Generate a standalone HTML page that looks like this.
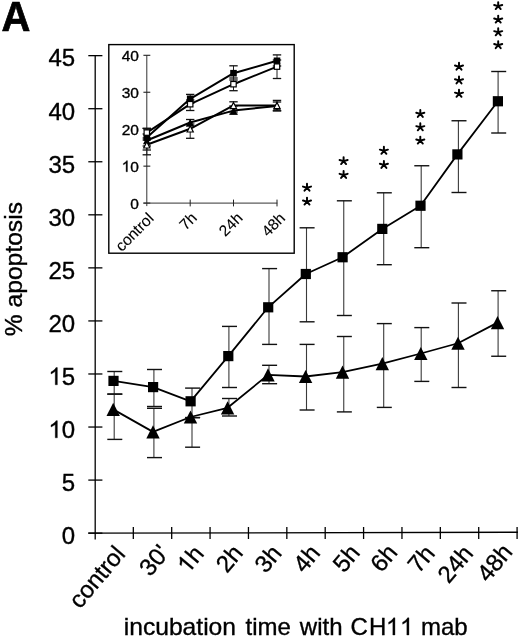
<!DOCTYPE html>
<html><head><meta charset="utf-8"><style>
html,body{margin:0;padding:0;background:#fff;width:520px;height:639px;overflow:hidden}
svg{display:block;font-family:"Liberation Sans", sans-serif;filter:blur(0.35px)}
text,.g1{stroke:#000;stroke-width:0.35px}
</style></head><body>
<svg width="520" height="639" viewBox="0 0 520 639">
<rect width="520" height="639" fill="#fff"/>
<line x1="95.2" y1="55.05499999999997" x2="95.2" y2="539.5" stroke="#000" stroke-width="1.3"/>
<line x1="88.3" y1="533.15" x2="102.4" y2="533.15" stroke="#000" stroke-width="1.3"/>
<g transform="translate(61.76 543.95)"><text x="0.00" y="0" font-size="24">0</text></g>
<line x1="88.3" y1="480.09" x2="102.4" y2="480.09" stroke="#000" stroke-width="1.3"/>
<g transform="translate(61.76 490.89)"><text x="0.00" y="0" font-size="24">5</text></g>
<line x1="88.3" y1="427.04" x2="102.4" y2="427.04" stroke="#000" stroke-width="1.3"/>
<g transform="translate(48.41 437.84)"><path class="g1" d="M0.373,0L0.285,0L0.285,-0.560Q0.253,-0.530,0.200,-0.499Q0.147,-0.468,0.109,-0.450L0.109,-0.535Q0.180,-0.568,0.245,-0.624Q0.298,-0.670,0.316,-0.716L0.373,-0.716Z" transform="translate(0.00 0) scale(24)" fill="#000" style="stroke-width:0.0146px"/><text x="13.34" y="0" font-size="24">0</text></g>
<line x1="88.3" y1="373.98" x2="102.4" y2="373.98" stroke="#000" stroke-width="1.3"/>
<g transform="translate(48.41 384.78)"><path class="g1" d="M0.373,0L0.285,0L0.285,-0.560Q0.253,-0.530,0.200,-0.499Q0.147,-0.468,0.109,-0.450L0.109,-0.535Q0.180,-0.568,0.245,-0.624Q0.298,-0.670,0.316,-0.716L0.373,-0.716Z" transform="translate(0.00 0) scale(24)" fill="#000" style="stroke-width:0.0146px"/><text x="13.34" y="0" font-size="24">5</text></g>
<line x1="88.3" y1="320.93" x2="102.4" y2="320.93" stroke="#000" stroke-width="1.3"/>
<g transform="translate(48.41 331.73)"><text x="0.00" y="0" font-size="24">20</text></g>
<line x1="88.3" y1="267.87" x2="102.4" y2="267.87" stroke="#000" stroke-width="1.3"/>
<g transform="translate(48.41 278.67)"><text x="0.00" y="0" font-size="24">25</text></g>
<line x1="88.3" y1="214.82" x2="102.4" y2="214.82" stroke="#000" stroke-width="1.3"/>
<g transform="translate(48.41 225.62)"><text x="0.00" y="0" font-size="24">30</text></g>
<line x1="88.3" y1="161.76" x2="102.4" y2="161.76" stroke="#000" stroke-width="1.3"/>
<g transform="translate(48.41 172.56)"><text x="0.00" y="0" font-size="24">35</text></g>
<line x1="88.3" y1="108.71" x2="102.4" y2="108.71" stroke="#000" stroke-width="1.3"/>
<g transform="translate(48.41 119.51)"><text x="0.00" y="0" font-size="24">40</text></g>
<line x1="88.3" y1="55.65" x2="102.4" y2="55.65" stroke="#000" stroke-width="1.3"/>
<g transform="translate(48.41 66.45)"><text x="0.00" y="0" font-size="24">45</text></g>
<line x1="88.3" y1="533.15" x2="517.9" y2="532.25" stroke="#000" stroke-width="1.3"/>
<line x1="133.32" y1="527" x2="133.32" y2="539" stroke="#000" stroke-width="1.3"/>
<line x1="171.69" y1="527" x2="171.69" y2="539" stroke="#000" stroke-width="1.3"/>
<line x1="210.07" y1="527" x2="210.07" y2="539" stroke="#000" stroke-width="1.3"/>
<line x1="248.45" y1="527" x2="248.45" y2="539" stroke="#000" stroke-width="1.3"/>
<line x1="286.83" y1="527" x2="286.83" y2="539" stroke="#000" stroke-width="1.3"/>
<line x1="325.20" y1="527" x2="325.20" y2="539" stroke="#000" stroke-width="1.3"/>
<line x1="363.58" y1="527" x2="363.58" y2="539" stroke="#000" stroke-width="1.3"/>
<line x1="401.96" y1="527" x2="401.96" y2="539" stroke="#000" stroke-width="1.3"/>
<line x1="440.33" y1="527" x2="440.33" y2="539" stroke="#000" stroke-width="1.3"/>
<line x1="478.71" y1="527" x2="478.71" y2="539" stroke="#000" stroke-width="1.3"/>
<line x1="517.09" y1="527" x2="517.09" y2="539" stroke="#000" stroke-width="1.3"/>
<text x="126.33" y="554.60" text-anchor="end" font-size="24" transform="rotate(-50 126.33 554.60)">control</text>
<text x="170.41" y="553.60" text-anchor="end" font-size="24" transform="rotate(-50 170.41 553.60)">30'</text>
<g transform="translate(205.08 554.20) rotate(-50) translate(-26.69 0.00)"><path class="g1" d="M0.373,0L0.285,0L0.285,-0.560Q0.253,-0.530,0.200,-0.499Q0.147,-0.468,0.109,-0.450L0.109,-0.535Q0.180,-0.568,0.245,-0.624Q0.298,-0.670,0.316,-0.716L0.373,-0.716Z" transform="translate(0.00 0) scale(24)" fill="#000" style="stroke-width:0.0146px"/><text x="13.34" y="0" font-size="24">h</text></g>
<text x="244.16" y="553.60" text-anchor="end" font-size="24" transform="rotate(-50 244.16 553.60)">2h</text>
<text x="282.94" y="553.80" text-anchor="end" font-size="24" transform="rotate(-50 282.94 553.80)">3h</text>
<text x="321.41" y="553.50" text-anchor="end" font-size="24" transform="rotate(-50 321.41 553.50)">4h</text>
<text x="361.19" y="553.30" text-anchor="end" font-size="24" transform="rotate(-50 361.19 553.30)">5h</text>
<text x="398.57" y="553.10" text-anchor="end" font-size="24" transform="rotate(-50 398.57 553.10)">6h</text>
<text x="436.04" y="553.90" text-anchor="end" font-size="24" transform="rotate(-50 436.04 553.90)">7h</text>
<text x="474.42" y="553.90" text-anchor="end" font-size="24" transform="rotate(-50 474.42 553.90)">24h</text>
<text x="513.70" y="552.60" text-anchor="end" font-size="24" transform="rotate(-50 513.70 552.60)">48h</text>
<text x="123.8" y="635" font-size="24" transform="translate(123.8 0) scale(1.026 1) translate(-123.8 0)">incubation</text>
<text x="245.6" y="635" font-size="24">time</text>
<text x="299.8" y="635" font-size="24">with</text>
<text x="350.4" y="635" font-size="24">C</text>
<text x="369.0" y="635" font-size="24">H</text>
<g transform="translate(386.00 635.00)"><path class="g1" d="M0.373,0L0.285,0L0.285,-0.560Q0.253,-0.530,0.200,-0.499Q0.147,-0.468,0.109,-0.450L0.109,-0.535Q0.180,-0.568,0.245,-0.624Q0.298,-0.670,0.316,-0.716L0.373,-0.716Z" transform="translate(0.00 0) scale(24)" fill="#000" style="stroke-width:0.0146px"/></g>
<g transform="translate(400.00 635.00)"><path class="g1" d="M0.373,0L0.285,0L0.285,-0.560Q0.253,-0.530,0.200,-0.499Q0.147,-0.468,0.109,-0.450L0.109,-0.535Q0.180,-0.568,0.245,-0.624Q0.298,-0.670,0.316,-0.716L0.373,-0.716Z" transform="translate(0.00 0) scale(24)" fill="#000" style="stroke-width:0.0146px"/></g>
<text x="421.0" y="635" font-size="24">mab</text>
<text x="0" y="0" text-anchor="middle" font-size="24" transform="translate(22.3 269.15) rotate(-90) scale(1.027 1)">% apoptosis</text>
<text x="1.6" y="31.3" font-size="41" font-weight="bold" style="stroke-width:0.7px" transform="translate(1.6 31.3) scale(0.975 1.05) translate(-1.6 -31.3)">A</text>
<line x1="114.20" y1="371.5" x2="114.20" y2="394.1" stroke="#3a3a3a" stroke-width="1.1"/>
<line x1="107.30" y1="371.5" x2="122.30" y2="371.5" stroke="#111" stroke-width="1.4"/>
<line x1="107.30" y1="394.1" x2="122.30" y2="394.1" stroke="#111" stroke-width="1.4"/>
<line x1="114.20" y1="394.1" x2="114.20" y2="439.4" stroke="#3a3a3a" stroke-width="1.1"/>
<line x1="107.30" y1="394.1" x2="122.30" y2="394.1" stroke="#111" stroke-width="1.4"/>
<line x1="107.30" y1="439.4" x2="122.30" y2="439.4" stroke="#111" stroke-width="1.4"/>
<line x1="153.90" y1="369.5" x2="153.90" y2="406.5" stroke="#3a3a3a" stroke-width="1.1"/>
<line x1="147.00" y1="369.5" x2="162.00" y2="369.5" stroke="#111" stroke-width="1.4"/>
<line x1="147.00" y1="406.5" x2="162.00" y2="406.5" stroke="#111" stroke-width="1.4"/>
<line x1="153.90" y1="408.3" x2="153.90" y2="457.6" stroke="#3a3a3a" stroke-width="1.1"/>
<line x1="147.00" y1="408.3" x2="162.00" y2="408.3" stroke="#111" stroke-width="1.4"/>
<line x1="147.00" y1="457.6" x2="162.00" y2="457.6" stroke="#111" stroke-width="1.4"/>
<line x1="192.00" y1="388.1" x2="192.00" y2="417.6" stroke="#3a3a3a" stroke-width="1.1"/>
<line x1="185.10" y1="388.1" x2="200.10" y2="388.1" stroke="#111" stroke-width="1.4"/>
<line x1="185.10" y1="417.6" x2="200.10" y2="417.6" stroke="#111" stroke-width="1.4"/>
<line x1="192.00" y1="417.6" x2="192.00" y2="447.2" stroke="#3a3a3a" stroke-width="1.1"/>
<line x1="185.10" y1="417.6" x2="200.10" y2="417.6" stroke="#111" stroke-width="1.4"/>
<line x1="185.10" y1="447.2" x2="200.10" y2="447.2" stroke="#111" stroke-width="1.4"/>
<line x1="228.90" y1="326.4" x2="228.90" y2="387.5" stroke="#3a3a3a" stroke-width="1.1"/>
<line x1="222.00" y1="326.4" x2="237.00" y2="326.4" stroke="#111" stroke-width="1.4"/>
<line x1="222.00" y1="387.5" x2="237.00" y2="387.5" stroke="#111" stroke-width="1.4"/>
<line x1="228.90" y1="398.5" x2="228.90" y2="416" stroke="#3a3a3a" stroke-width="1.1"/>
<line x1="222.00" y1="398.5" x2="237.00" y2="398.5" stroke="#111" stroke-width="1.4"/>
<line x1="222.00" y1="416" x2="237.00" y2="416" stroke="#111" stroke-width="1.4"/>
<line x1="269.00" y1="268.6" x2="269.00" y2="344.4" stroke="#3a3a3a" stroke-width="1.1"/>
<line x1="262.10" y1="268.6" x2="277.10" y2="268.6" stroke="#111" stroke-width="1.4"/>
<line x1="262.10" y1="344.4" x2="277.10" y2="344.4" stroke="#111" stroke-width="1.4"/>
<line x1="269.00" y1="365.3" x2="269.00" y2="383.7" stroke="#3a3a3a" stroke-width="1.1"/>
<line x1="262.10" y1="365.3" x2="277.10" y2="365.3" stroke="#111" stroke-width="1.4"/>
<line x1="262.10" y1="383.7" x2="277.10" y2="383.7" stroke="#111" stroke-width="1.4"/>
<line x1="306.50" y1="227.8" x2="306.50" y2="321.8" stroke="#3a3a3a" stroke-width="1.1"/>
<line x1="299.60" y1="227.8" x2="314.60" y2="227.8" stroke="#111" stroke-width="1.4"/>
<line x1="299.60" y1="321.8" x2="314.60" y2="321.8" stroke="#111" stroke-width="1.4"/>
<line x1="306.50" y1="344.4" x2="306.50" y2="410" stroke="#3a3a3a" stroke-width="1.1"/>
<line x1="299.60" y1="344.4" x2="314.60" y2="344.4" stroke="#111" stroke-width="1.4"/>
<line x1="299.60" y1="410" x2="314.60" y2="410" stroke="#111" stroke-width="1.4"/>
<line x1="343.75" y1="200.8" x2="343.75" y2="315.5" stroke="#3a3a3a" stroke-width="1.1"/>
<line x1="336.85" y1="200.8" x2="351.85" y2="200.8" stroke="#111" stroke-width="1.4"/>
<line x1="336.85" y1="315.5" x2="351.85" y2="315.5" stroke="#111" stroke-width="1.4"/>
<line x1="343.75" y1="336.5" x2="343.75" y2="411.9" stroke="#3a3a3a" stroke-width="1.1"/>
<line x1="336.85" y1="336.5" x2="351.85" y2="336.5" stroke="#111" stroke-width="1.4"/>
<line x1="336.85" y1="411.9" x2="351.85" y2="411.9" stroke="#111" stroke-width="1.4"/>
<line x1="383.70" y1="192.8" x2="383.70" y2="264.7" stroke="#3a3a3a" stroke-width="1.1"/>
<line x1="376.80" y1="192.8" x2="391.80" y2="192.8" stroke="#111" stroke-width="1.4"/>
<line x1="376.80" y1="264.7" x2="391.80" y2="264.7" stroke="#111" stroke-width="1.4"/>
<line x1="383.70" y1="323.6" x2="383.70" y2="407.4" stroke="#3a3a3a" stroke-width="1.1"/>
<line x1="376.80" y1="323.6" x2="391.80" y2="323.6" stroke="#111" stroke-width="1.4"/>
<line x1="376.80" y1="407.4" x2="391.80" y2="407.4" stroke="#111" stroke-width="1.4"/>
<line x1="421.20" y1="165.75" x2="421.20" y2="247.7" stroke="#3a3a3a" stroke-width="1.1"/>
<line x1="414.30" y1="165.75" x2="429.30" y2="165.75" stroke="#111" stroke-width="1.4"/>
<line x1="414.30" y1="247.7" x2="429.30" y2="247.7" stroke="#111" stroke-width="1.4"/>
<line x1="421.20" y1="327.6" x2="421.20" y2="381.4" stroke="#3a3a3a" stroke-width="1.1"/>
<line x1="414.30" y1="327.6" x2="429.30" y2="327.6" stroke="#111" stroke-width="1.4"/>
<line x1="414.30" y1="381.4" x2="429.30" y2="381.4" stroke="#111" stroke-width="1.4"/>
<line x1="458.40" y1="120.75" x2="458.40" y2="192.5" stroke="#3a3a3a" stroke-width="1.1"/>
<line x1="451.50" y1="120.75" x2="466.50" y2="120.75" stroke="#111" stroke-width="1.4"/>
<line x1="451.50" y1="192.5" x2="466.50" y2="192.5" stroke="#111" stroke-width="1.4"/>
<line x1="458.40" y1="303" x2="458.40" y2="387.5" stroke="#3a3a3a" stroke-width="1.1"/>
<line x1="451.50" y1="303" x2="466.50" y2="303" stroke="#111" stroke-width="1.4"/>
<line x1="451.50" y1="387.5" x2="466.50" y2="387.5" stroke="#111" stroke-width="1.4"/>
<line x1="498.10" y1="71.5" x2="498.10" y2="133" stroke="#3a3a3a" stroke-width="1.1"/>
<line x1="491.20" y1="71.5" x2="506.20" y2="71.5" stroke="#111" stroke-width="1.4"/>
<line x1="491.20" y1="133" x2="506.20" y2="133" stroke="#111" stroke-width="1.4"/>
<line x1="498.10" y1="290.75" x2="498.10" y2="356.25" stroke="#3a3a3a" stroke-width="1.1"/>
<line x1="491.20" y1="290.75" x2="506.20" y2="290.75" stroke="#111" stroke-width="1.4"/>
<line x1="491.20" y1="356.25" x2="506.20" y2="356.25" stroke="#111" stroke-width="1.4"/>
<polyline points="113.50,380.9 153.10,387.1 190.60,401.3 228.30,356.1 268.20,307.3 305.80,274.0 342.60,257.25 382.30,228.9 420.50,205.75 457.40,154.4 497.90,101.25" fill="none" stroke="#000" stroke-width="1.8" stroke-linejoin="round"/>
<polyline points="113.20,409.4 153.00,431.85 190.50,417.0 227.60,407.8 268.00,374.9 305.60,376.5 342.50,372.1 382.30,363.6 420.80,353.5 458.00,343.25 497.50,322.6" fill="none" stroke="#000" stroke-width="1.8" stroke-linejoin="round"/>
<rect x="108.40" y="375.80" width="10.2" height="10.2" fill="#000"/>
<rect x="148.00" y="382.00" width="10.2" height="10.2" fill="#000"/>
<rect x="185.50" y="396.20" width="10.2" height="10.2" fill="#000"/>
<rect x="223.20" y="351.00" width="10.2" height="10.2" fill="#000"/>
<rect x="263.10" y="302.20" width="10.2" height="10.2" fill="#000"/>
<rect x="300.70" y="268.90" width="10.2" height="10.2" fill="#000"/>
<rect x="337.50" y="252.15" width="10.2" height="10.2" fill="#000"/>
<rect x="377.20" y="223.80" width="10.2" height="10.2" fill="#000"/>
<rect x="415.40" y="200.65" width="10.2" height="10.2" fill="#000"/>
<rect x="452.30" y="149.30" width="10.2" height="10.2" fill="#000"/>
<rect x="492.80" y="96.15" width="10.2" height="10.2" fill="#000"/>
<polygon points="113.20,402.80 119.90,416.00 106.50,416.00" fill="#000"/>
<polygon points="153.00,425.25 159.70,438.45 146.30,438.45" fill="#000"/>
<polygon points="190.50,410.40 197.20,423.60 183.80,423.60" fill="#000"/>
<polygon points="227.60,401.20 234.30,414.40 220.90,414.40" fill="#000"/>
<polygon points="268.00,368.30 274.70,381.50 261.30,381.50" fill="#000"/>
<polygon points="305.60,369.90 312.30,383.10 298.90,383.10" fill="#000"/>
<polygon points="342.50,365.50 349.20,378.70 335.80,378.70" fill="#000"/>
<polygon points="382.30,357.00 389.00,370.20 375.60,370.20" fill="#000"/>
<polygon points="420.80,346.90 427.50,360.10 414.10,360.10" fill="#000"/>
<polygon points="458.00,336.65 464.70,349.85 451.30,349.85" fill="#000"/>
<polygon points="497.50,316.00 504.20,329.20 490.80,329.20" fill="#000"/>
<path d="M307.00,187.75L307.00,183.75M307.00,187.75L311.04,186.59M307.00,187.75L309.51,190.74M307.00,187.75L304.49,190.74M307.00,187.75L302.96,186.59" stroke="#000" stroke-width="1.95" stroke-linecap="round" fill="none"/>
<path d="M307.00,201.60L307.00,197.60M307.00,201.60L311.04,200.44M307.00,201.60L309.51,204.59M307.00,201.60L304.49,204.59M307.00,201.60L302.96,200.44" stroke="#000" stroke-width="1.95" stroke-linecap="round" fill="none"/>
<path d="M343.60,161.10L343.60,157.10M343.60,161.10L347.64,159.94M343.60,161.10L346.11,164.09M343.60,161.10L341.09,164.09M343.60,161.10L339.56,159.94" stroke="#000" stroke-width="1.95" stroke-linecap="round" fill="none"/>
<path d="M343.60,175.00L343.60,171.00M343.60,175.00L347.64,173.84M343.60,175.00L346.11,177.99M343.60,175.00L341.09,177.99M343.60,175.00L339.56,173.84" stroke="#000" stroke-width="1.95" stroke-linecap="round" fill="none"/>
<path d="M383.90,150.80L383.90,146.80M383.90,150.80L387.94,149.64M383.90,150.80L386.41,153.79M383.90,150.80L381.39,153.79M383.90,150.80L379.86,149.64" stroke="#000" stroke-width="1.95" stroke-linecap="round" fill="none"/>
<path d="M383.90,164.90L383.90,160.90M383.90,164.90L387.94,163.74M383.90,164.90L386.41,167.89M383.90,164.90L381.39,167.89M383.90,164.90L379.86,163.74" stroke="#000" stroke-width="1.95" stroke-linecap="round" fill="none"/>
<path d="M420.30,113.90L420.30,109.90M420.30,113.90L424.34,112.74M420.30,113.90L422.81,116.89M420.30,113.90L417.79,116.89M420.30,113.90L416.26,112.74" stroke="#000" stroke-width="1.95" stroke-linecap="round" fill="none"/>
<path d="M420.30,127.30L420.30,123.30M420.30,127.30L424.34,126.14M420.30,127.30L422.81,130.29M420.30,127.30L417.79,130.29M420.30,127.30L416.26,126.14" stroke="#000" stroke-width="1.95" stroke-linecap="round" fill="none"/>
<path d="M420.30,140.60L420.30,136.60M420.30,140.60L424.34,139.44M420.30,140.60L422.81,143.59M420.30,140.60L417.79,143.59M420.30,140.60L416.26,139.44" stroke="#000" stroke-width="1.95" stroke-linecap="round" fill="none"/>
<path d="M459.00,66.70L459.00,62.70M459.00,66.70L463.04,65.54M459.00,66.70L461.51,69.69M459.00,66.70L456.49,69.69M459.00,66.70L454.96,65.54" stroke="#000" stroke-width="1.95" stroke-linecap="round" fill="none"/>
<path d="M459.00,80.40L459.00,76.40M459.00,80.40L463.04,79.24M459.00,80.40L461.51,83.39M459.00,80.40L456.49,83.39M459.00,80.40L454.96,79.24" stroke="#000" stroke-width="1.95" stroke-linecap="round" fill="none"/>
<path d="M459.00,93.80L459.00,89.80M459.00,93.80L463.04,92.64M459.00,93.80L461.51,96.79M459.00,93.80L456.49,96.79M459.00,93.80L454.96,92.64" stroke="#000" stroke-width="1.95" stroke-linecap="round" fill="none"/>
<path d="M498.20,6.10L498.20,2.10M498.20,6.10L502.24,4.94M498.20,6.10L500.71,9.09M498.20,6.10L495.69,9.09M498.20,6.10L494.16,4.94" stroke="#000" stroke-width="1.95" stroke-linecap="round" fill="none"/>
<path d="M498.20,19.60L498.20,15.60M498.20,19.60L502.24,18.44M498.20,19.60L500.71,22.59M498.20,19.60L495.69,22.59M498.20,19.60L494.16,18.44" stroke="#000" stroke-width="1.95" stroke-linecap="round" fill="none"/>
<path d="M498.20,32.30L498.20,28.30M498.20,32.30L502.24,31.14M498.20,32.30L500.71,35.29M498.20,32.30L495.69,35.29M498.20,32.30L494.16,31.14" stroke="#000" stroke-width="1.95" stroke-linecap="round" fill="none"/>
<path d="M498.20,45.20L498.20,41.20M498.20,45.20L502.24,44.04M498.20,45.20L500.71,48.19M498.20,45.20L495.69,48.19M498.20,45.20L494.16,44.04" stroke="#000" stroke-width="1.95" stroke-linecap="round" fill="none"/>
<rect x="108.8" y="44.6" width="185.4" height="208.6" fill="#fff" stroke="#000" stroke-width="1.4"/>
<line x1="146.8" y1="55.30000000000001" x2="146.8" y2="206.1" stroke="#333" stroke-width="1.0"/>
<line x1="143.4" y1="203.10" x2="150.3" y2="203.10" stroke="#222" stroke-width="1.1"/>
<g transform="translate(130.28 208.70)"><text x="0.00" y="0" font-size="15.5">0</text></g>
<line x1="143.4" y1="166.15" x2="150.3" y2="166.15" stroke="#222" stroke-width="1.1"/>
<g transform="translate(121.66 171.75)"><path class="g1" d="M0.373,0L0.285,0L0.285,-0.560Q0.253,-0.530,0.200,-0.499Q0.147,-0.468,0.109,-0.450L0.109,-0.535Q0.180,-0.568,0.245,-0.624Q0.298,-0.670,0.316,-0.716L0.373,-0.716Z" transform="translate(0.00 0) scale(15.5)" fill="#000" style="stroke-width:0.0226px"/><text x="8.62" y="0" font-size="15.5">0</text></g>
<line x1="143.4" y1="129.20" x2="150.3" y2="129.20" stroke="#222" stroke-width="1.1"/>
<g transform="translate(121.66 134.80)"><text x="0.00" y="0" font-size="15.5">20</text></g>
<line x1="143.4" y1="92.25" x2="150.3" y2="92.25" stroke="#222" stroke-width="1.1"/>
<g transform="translate(121.66 97.85)"><text x="0.00" y="0" font-size="15.5">30</text></g>
<line x1="143.4" y1="55.30" x2="150.3" y2="55.30" stroke="#222" stroke-width="1.1"/>
<g transform="translate(121.66 60.90)"><text x="0.00" y="0" font-size="15.5">40</text></g>
<line x1="143.4" y1="203.1" x2="277.3" y2="203.1" stroke="#333" stroke-width="1.0"/>
<line x1="190.2" y1="199.6" x2="190.2" y2="206.4" stroke="#222" stroke-width="1.0"/>
<line x1="233.5" y1="199.6" x2="233.5" y2="206.4" stroke="#222" stroke-width="1.0"/>
<line x1="277.0" y1="199.6" x2="277.0" y2="206.4" stroke="#222" stroke-width="1.0"/>
<text x="154.60" y="219.40" text-anchor="end" font-size="15.5" style="stroke-width:0.1px" transform="rotate(-45 154.60 219.40)">control</text>
<text x="197.90" y="218.90" text-anchor="end" font-size="15.5" style="stroke-width:0.1px" transform="rotate(-45 197.90 218.90)">7h</text>
<text x="243.60" y="219.00" text-anchor="end" font-size="15.5" style="stroke-width:0.1px" transform="rotate(-45 243.60 219.00)">24h</text>
<text x="286.20" y="219.10" text-anchor="end" font-size="15.5" style="stroke-width:0.1px" transform="rotate(-45 286.20 219.10)">48h</text>
<line x1="146.8" y1="128.4" x2="146.8" y2="146" stroke="#222" stroke-width="1"/>
<line x1="142.60000000000002" y1="128.4" x2="151.0" y2="128.4" stroke="#111" stroke-width="1.3"/>
<line x1="142.60000000000002" y1="146" x2="151.0" y2="146" stroke="#111" stroke-width="1.3"/>
<line x1="190.2" y1="94.4" x2="190.2" y2="103" stroke="#222" stroke-width="1"/>
<line x1="186.0" y1="94.4" x2="194.39999999999998" y2="94.4" stroke="#111" stroke-width="1.3"/>
<line x1="186.0" y1="103" x2="194.39999999999998" y2="103" stroke="#111" stroke-width="1.3"/>
<line x1="233.5" y1="65.8" x2="233.5" y2="80" stroke="#222" stroke-width="1"/>
<line x1="229.3" y1="65.8" x2="237.7" y2="65.8" stroke="#111" stroke-width="1.3"/>
<line x1="229.3" y1="80" x2="237.7" y2="80" stroke="#111" stroke-width="1.3"/>
<line x1="277.0" y1="54.9" x2="277.0" y2="66" stroke="#222" stroke-width="1"/>
<line x1="272.8" y1="54.9" x2="281.2" y2="54.9" stroke="#111" stroke-width="1.3"/>
<line x1="272.8" y1="66" x2="281.2" y2="66" stroke="#111" stroke-width="1.3"/>
<line x1="146.8" y1="128.4" x2="146.8" y2="140" stroke="#222" stroke-width="1"/>
<line x1="142.60000000000002" y1="128.4" x2="151.0" y2="128.4" stroke="#111" stroke-width="1.3"/>
<line x1="142.60000000000002" y1="140" x2="151.0" y2="140" stroke="#111" stroke-width="1.3"/>
<line x1="190.2" y1="100" x2="190.2" y2="110.5" stroke="#222" stroke-width="1"/>
<line x1="186.0" y1="100" x2="194.39999999999998" y2="100" stroke="#111" stroke-width="1.3"/>
<line x1="186.0" y1="110.5" x2="194.39999999999998" y2="110.5" stroke="#111" stroke-width="1.3"/>
<line x1="233.5" y1="78" x2="233.5" y2="90.7" stroke="#222" stroke-width="1"/>
<line x1="229.3" y1="78" x2="237.7" y2="78" stroke="#111" stroke-width="1.3"/>
<line x1="229.3" y1="90.7" x2="237.7" y2="90.7" stroke="#111" stroke-width="1.3"/>
<line x1="277.0" y1="60" x2="277.0" y2="78.5" stroke="#222" stroke-width="1"/>
<line x1="272.8" y1="60" x2="281.2" y2="60" stroke="#111" stroke-width="1.3"/>
<line x1="272.8" y1="78.5" x2="281.2" y2="78.5" stroke="#111" stroke-width="1.3"/>
<line x1="146.8" y1="134" x2="146.8" y2="150" stroke="#222" stroke-width="1"/>
<line x1="142.60000000000002" y1="134" x2="151.0" y2="134" stroke="#111" stroke-width="1.3"/>
<line x1="142.60000000000002" y1="150" x2="151.0" y2="150" stroke="#111" stroke-width="1.3"/>
<line x1="190.2" y1="119.5" x2="190.2" y2="126" stroke="#222" stroke-width="1"/>
<line x1="186.0" y1="119.5" x2="194.39999999999998" y2="119.5" stroke="#111" stroke-width="1.3"/>
<line x1="186.0" y1="126" x2="194.39999999999998" y2="126" stroke="#111" stroke-width="1.3"/>
<line x1="233.5" y1="106" x2="233.5" y2="114.2" stroke="#222" stroke-width="1"/>
<line x1="229.3" y1="106" x2="237.7" y2="106" stroke="#111" stroke-width="1.3"/>
<line x1="229.3" y1="114.2" x2="237.7" y2="114.2" stroke="#111" stroke-width="1.3"/>
<line x1="277.0" y1="102" x2="277.0" y2="110.8" stroke="#222" stroke-width="1"/>
<line x1="272.8" y1="102" x2="281.2" y2="102" stroke="#111" stroke-width="1.3"/>
<line x1="272.8" y1="110.8" x2="281.2" y2="110.8" stroke="#111" stroke-width="1.3"/>
<line x1="146.8" y1="138" x2="146.8" y2="154.8" stroke="#222" stroke-width="1"/>
<line x1="142.60000000000002" y1="138" x2="151.0" y2="138" stroke="#111" stroke-width="1.3"/>
<line x1="142.60000000000002" y1="154.8" x2="151.0" y2="154.8" stroke="#111" stroke-width="1.3"/>
<line x1="190.2" y1="124" x2="190.2" y2="138.3" stroke="#222" stroke-width="1"/>
<line x1="186.0" y1="124" x2="194.39999999999998" y2="124" stroke="#111" stroke-width="1.3"/>
<line x1="186.0" y1="138.3" x2="194.39999999999998" y2="138.3" stroke="#111" stroke-width="1.3"/>
<line x1="233.5" y1="101.8" x2="233.5" y2="112" stroke="#222" stroke-width="1"/>
<line x1="229.3" y1="101.8" x2="237.7" y2="101.8" stroke="#111" stroke-width="1.3"/>
<line x1="229.3" y1="112" x2="237.7" y2="112" stroke="#111" stroke-width="1.3"/>
<line x1="277.0" y1="100.4" x2="277.0" y2="110.8" stroke="#222" stroke-width="1"/>
<line x1="272.8" y1="100.4" x2="281.2" y2="100.4" stroke="#111" stroke-width="1.3"/>
<line x1="272.8" y1="110.8" x2="281.2" y2="110.8" stroke="#111" stroke-width="1.3"/>
<polyline points="146.8,144.8 190.2,128.8 233.5,105.4 277.0,105.4" fill="none" stroke="#000" stroke-width="2" stroke-linejoin="round"/>
<polyline points="146.8,140.5 190.2,122.5 233.5,110.6 277.0,105.9" fill="none" stroke="#000" stroke-width="2" stroke-linejoin="round"/>
<polyline points="146.8,132.6 190.2,104.2 233.5,84.2 277.0,66.6" fill="none" stroke="#000" stroke-width="2" stroke-linejoin="round"/>
<polyline points="146.8,137.6 190.2,98.8 233.5,73.2 277.0,60.8" fill="none" stroke="#000" stroke-width="2" stroke-linejoin="round"/>
<rect x="143.5" y="134.29999999999998" width="6.6" height="6.6" fill="#000"/>
<rect x="186.89999999999998" y="95.5" width="6.6" height="6.6" fill="#000"/>
<rect x="230.2" y="69.9" width="6.6" height="6.6" fill="#000"/>
<rect x="273.7" y="57.5" width="6.6" height="6.6" fill="#000"/>
<rect x="144.1" y="129.89999999999998" width="5.3999999999999995" height="5.3999999999999995" fill="#fff" stroke="#000" stroke-width="1.2"/>
<rect x="187.49999999999997" y="101.5" width="5.3999999999999995" height="5.3999999999999995" fill="#fff" stroke="#000" stroke-width="1.2"/>
<rect x="230.79999999999998" y="81.5" width="5.3999999999999995" height="5.3999999999999995" fill="#fff" stroke="#000" stroke-width="1.2"/>
<rect x="274.3" y="63.9" width="5.3999999999999995" height="5.3999999999999995" fill="#fff" stroke="#000" stroke-width="1.2"/>
<polygon points="146.8,136.7 150.60000000000002,144.3 143.0,144.3" fill="#000"/>
<polygon points="190.2,118.7 194.0,126.3 186.39999999999998,126.3" fill="#000"/>
<polygon points="233.5,106.8 237.3,114.39999999999999 229.7,114.39999999999999" fill="#000"/>
<polygon points="277.0,102.10000000000001 280.8,109.7 273.2,109.7" fill="#000"/>
<polygon points="146.8,141.8 149.90000000000003,148.00000000000003 143.7,148.00000000000003" fill="#fff" stroke="#000" stroke-width="1.2"/>
<polygon points="190.2,125.80000000000001 193.3,132.00000000000003 187.09999999999997,132.00000000000003" fill="#fff" stroke="#000" stroke-width="1.2"/>
<polygon points="233.5,102.4 236.60000000000002,108.60000000000001 230.39999999999998,108.60000000000001" fill="#fff" stroke="#000" stroke-width="1.2"/>
<polygon points="277.0,102.4 280.1,108.60000000000001 273.9,108.60000000000001" fill="#fff" stroke="#000" stroke-width="1.2"/>
</svg>
</body></html>
